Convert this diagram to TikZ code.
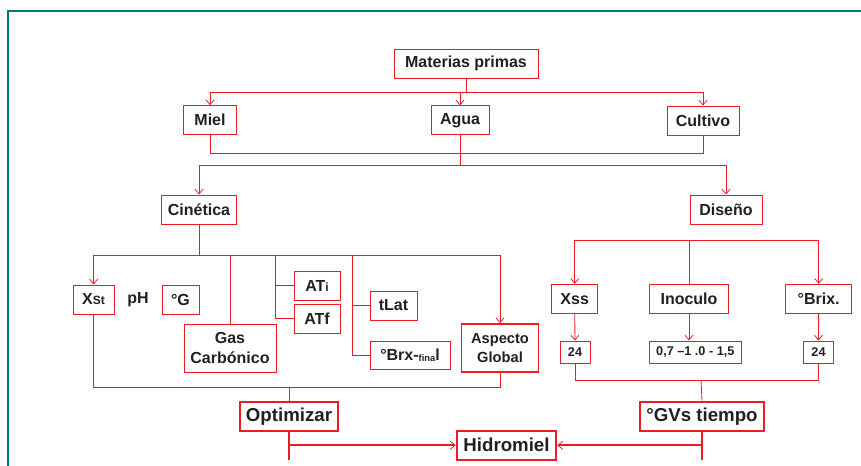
\documentclass[tikz,border=0pt]{standalone}
\usepackage{fontspec}
\setmainfont{Liberation Sans}
\usetikzlibrary{arrows.meta}
\definecolor{linered}{RGB}{237,28,36}
\definecolor{ink}{RGB}{35,31,32}
\definecolor{frameteal}{RGB}{0,122,112}
\begin{document}
\begin{tikzpicture}[
    x=0.75pt, y=-0.75pt,
    item/.style={draw=linered, line width=0.7pt, fill=white, inner sep=0pt,
                 minimum height=21.75pt, align=center, text=ink,
                 font=\fontsize{12}{13}\selectfont\bfseries},
    keyitem/.style={item, line width=1.6pt, minimum height=22pt,
                    font=\fontsize{14}{16}\selectfont\bfseries},
    numbox/.style={item, minimum height=16.5pt, font=\fontsize{9.5}{11}\selectfont\bfseries},
    plain/.style={text=ink, font=\fontsize{12}{13}\selectfont\bfseries},
    conn/.style={draw=linered, line width=0.6pt},
    arr/.style={conn, -{Straight Barb[length=3.5pt, width=6pt]}},
    bold conn/.style={draw=linered, line width=1.6pt},
    bold arr/.style={bold conn, -{Straight Barb[length=3.5pt, width=6pt, line width=0.6pt]}}
]
\useasboundingbox (0,0) rectangle (861,466);
\draw[frameteal, line width=1.1pt] (8,470) -- (8,11) -- (865,11);

% raw materials
\node[item, minimum width=108pt] (mp)   at (466,63.5)  {Materias primas};
\node[item, minimum width=39.2pt] (miel) at (210,120.2) {Miel};
\node[item, minimum width=43.5pt] (agua) at (460,120.3) {Agua};
\node[item, minimum width=54pt]   (cult) at (703,120.5) {Cultivo};
\node[item, minimum width=55.7pt] (cin)  at (199,209.5) {Cinética};
\node[item, minimum width=54pt]   (dis)  at (726,209.5) {Diseño};

% kinetics
\node[item, minimum width=30.75pt] (xst) at (93.5,299.5) {X{\fontsize{9}{10}\selectfont St}};
\node[plain] (ph) at (138,300) {pH};
\node[item, minimum width=27.75pt] (gg) at (180.5,299.5) {°G};
\node[item, minimum width=69pt, minimum height=36pt,
      font=\fontsize{12}{15.5}\selectfont\bfseries] (gas) at (230,348) {Gas\\Carbónico};
\node[item, minimum width=34.5pt] (ati) at (317,285.5) {AT{\fontsize{9}{10}\selectfont i}};
\node[item, minimum width=34.5pt] (atf) at (317,318.5) {ATf};
\node[item, minimum width=35.25pt] (tlat) at (393.5,305.5) {tLat};
\node[item, minimum width=60pt, minimum height=21pt] (brx) at (410,355)
    {°Brx-\raisebox{-1pt}{\fontsize{7}{8}\selectfont fina}l};
\node[item, line width=1.2pt, minimum width=57.75pt, minimum height=36pt,
      font=\fontsize{11}{14.5}\selectfont\bfseries] (asp) at (500,348) {Aspecto\\Global};

% design
\node[item, minimum width=34.5pt] (xss)  at (574.7,298.8) {Xss};
\node[item, minimum width=59pt]   (ino)  at (689,298.8)   {Inoculo};
\node[item, minimum width=49.5pt] (brix) at (818.7,298.8) {°Brix.};
\node[numbox, minimum width=22.5pt] (n24a) at (575,352)   {24};
\node[numbox, minimum width=68.5pt] (rng)  at (695.3,352) {0,7 –1 .0 - 1,5};
\node[numbox, minimum width=22.8pt] (n24b) at (818.5,352) {24};

% results
\node[keyitem, minimum width=73.5pt] (opt) at (289,416.3)   {Optimizar};
\node[keyitem, minimum width=93.5pt] (gvs) at (702,416.3)   {°GVs tiempo};
\node[keyitem, minimum width=74.7pt] (hid) at (506.5,445.3) {Hidromiel};

\coordinate (atbr) at (275,255);
\coordinate (tbr)  at (352,255);
\coordinate (cbot) at (289,387);
\coordinate (dbus) at (689,240);
\coordinate (dbot) at (701,380);

\draw[arr] (mp.south) -- ++(0,14) -| (miel.north);
\draw[arr] (mp.south) -- ++(0,14) -| (agua.north);
\draw[arr] (mp.south) -- ++(0,14) -| (cult.north);
\draw[conn] (miel.south) -- ++(0,18.3) -| (cult.south);
\draw[arr] (agua.south) -- ++(0,30) -| (cin.north);
\draw[arr] (agua.south) -- ++(0,30) -| (dis.north);

\draw[arr] (cin.south) -- ++(0,31) -| (xst.north);
\draw[arr] (cin.south) -- ++(0,31) -| (asp.north);
\draw[conn] (gas.north) -- (gas.north |- atbr);
\draw[conn] (atbr) |- (ati.west);
\draw[conn] (atbr) |- (atf.west);
\draw[conn] (tbr) |- (tlat.west);
\draw[conn] (tbr) |- (brx.west);
\draw[conn] (xst.south) -- ++(0,73) -| (asp.south);
\draw[conn] (cbot) -- (opt.north);

\draw[arr] (dbus) -| (xss.north);
\draw[arr] (dbus) -| (brix.north);
\draw[conn] (dbus) -- (ino.north);
\draw[arr] (xss) -- (n24a);
\draw[arr] (ino.south) -- (ino.south |- rng.north);
\draw[arr] (brix) -- (n24b);
\draw[conn] (n24a.south) -- ++(0,17) -| (n24b.south);
\draw[conn] (dbot) -- (gvs.north);

\draw[bold conn] (opt.south) -- ++(0,28);
\draw[bold arr] (opt.south) |- (hid.west);
\draw[bold conn] (gvs.south) -- ++(0,28);
\draw[bold arr] (gvs.south) |- (hid.east);
\end{tikzpicture}
\end{document}
